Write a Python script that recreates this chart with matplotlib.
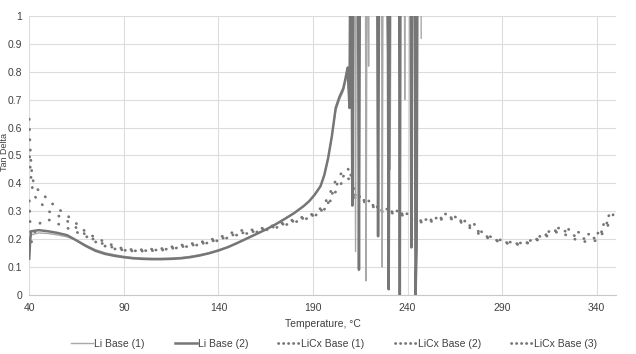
import matplotlib.pyplot as plt
from matplotlib.lines import Line2D

plt.rcParams['font.family'] = ['Liberation Sans', 'DejaVu Sans']

# Li Base runs (temperature, tan delta); values above 1 run off the top of the chart
li1_t = [40, 40.5, 41, 45, 50, 55, 60, 65, 70, 75, 80, 85, 90, 95, 100, 105, 110, 115, 120,
         125, 130, 135, 140, 145, 150, 155, 160, 165, 170, 175, 180, 185, 188, 191, 194, 196,
         198, 200, 202, 204, 206, 208.0, 209.0, 211.8, 212.5, 213.1, 217.6, 218.1, 218.7,
         219.4, 220.0, 226.1, 226.6, 227.2, 230.8, 231.5, 238.2, 238.5, 238.8, 247.0, 247.2]
li1_v = [0.14, 0.19, 0.215, 0.222, 0.22, 0.215, 0.208, 0.196, 0.178, 0.162, 0.151, 0.144,
         0.138, 0.134, 0.132, 0.131, 0.131, 0.132, 0.134, 0.138, 0.144, 0.151, 0.161, 0.172,
         0.187, 0.203, 0.218, 0.234, 0.252, 0.272, 0.293, 0.318, 0.336, 0.36, 0.39, 0.43,
         0.49, 0.57, 0.66, 0.70, 0.73, 0.79, 0.72, 1.6, 0.155, 1.6, 1.6, 0.05, 1.6,
         0.82, 1.6, 1.6, 0.10, 1.6, 0.45, 1.6, 1.6, 0.70, 1.6, 1.6, 0.92]

li2_t = [40, 40.5, 41, 45, 50, 55, 60, 65, 70, 75, 80, 85, 90, 95, 100, 105, 110, 115, 120,
         125, 130, 135, 140, 145, 150, 155, 160, 165, 170, 175, 180, 185, 188, 191, 194, 196,
         198, 200, 202, 204, 206, 207, 208.3, 209.3, 210.0, 210.8, 211.4, 213.6, 214.3, 215.0,
         223.7, 224.4, 225.2, 229.3, 230.0, 230.9, 235.4, 235.9, 236.4, 241.3, 242.0, 242.6,
         243.6, 244.2, 244.8, 245.4]
li2_v = [0.13, 0.20, 0.228, 0.232, 0.228, 0.222, 0.214, 0.195, 0.175, 0.158, 0.147, 0.14,
         0.135, 0.131, 0.129, 0.128, 0.128, 0.129, 0.131, 0.135, 0.141, 0.149, 0.159, 0.171,
         0.186, 0.202, 0.218, 0.234, 0.252, 0.272, 0.293, 0.318, 0.336, 0.36, 0.39, 0.43,
         0.49, 0.57, 0.67, 0.71, 0.74, 0.77, 0.815, 0.67, 1.6, 0.32, 1.6, 1.6, 0.09, 1.6,
         1.6, 0.21, 1.6, 1.6, 0.02, 1.6, 1.6, 0.0, 1.6, 1.6, 0.17, 1.6,
         1.6, 0.0, 0.17, 1.6]

# LiCx Base runs share one temperature grid
cx_t = [40, 40.3, 40.7, 41.2, 42, 44, 46, 50, 55, 60, 65, 70, 75, 80, 85, 90, 95, 100,
        110, 120, 130, 140, 150, 160, 170, 180, 190, 195, 198, 200, 202, 204, 206, 208, 210,
        212, 215, 220, 225, 230, 235, 240, 245, 250, 255, 260, 265, 270, 275, 280, 285, 290,
        295, 300, 305, 310, 315, 320, 325, 330, 335, 340, 343, 346, 349]
cx1_v = [0.63, 0.56, 0.5, 0.45, 0.41, 0.38, 0.37, 0.34, 0.31, 0.285, 0.255, 0.225, 0.205,
         0.19, 0.175, 0.165, 0.162, 0.162, 0.166, 0.178, 0.188, 0.205, 0.23, 0.234, 0.25,
         0.27, 0.29, 0.315, 0.35, 0.38, 0.41, 0.43, 0.44, 0.455, 0.44, 0.37, 0.35, 0.335,
         0.31, 0.307, 0.30, 0.29, 0.27, 0.27, 0.275, 0.29, 0.28, 0.265, 0.255, 0.22, 0.205,
         0.195, 0.188, 0.186, 0.195, 0.21, 0.228, 0.24, 0.235, 0.225, 0.218, 0.215, 0.245,
         0.28, 0.31]
cx2_v = [0.52, 0.48, 0.44, 0.40, 0.37, 0.34, 0.33, 0.30, 0.285, 0.265, 0.24, 0.215, 0.195,
         0.18, 0.168, 0.16, 0.157, 0.157, 0.16, 0.172, 0.182, 0.198, 0.22, 0.228, 0.245,
         0.265, 0.285, 0.305, 0.33, 0.36, 0.39, 0.41, 0.425, 0.44, 0.43, 0.36, 0.345, 0.33,
         0.305, 0.30, 0.295, 0.285, 0.265, 0.268, 0.27, 0.28, 0.275, 0.26, 0.24, 0.215, 0.2,
         0.19, 0.185, 0.183, 0.19, 0.205, 0.222, 0.235, 0.225, 0.205, 0.2, 0.205, 0.23,
         0.265, 0.29]
cx3_v = [0.35, 0.28, 0.22, 0.19, 0.21, 0.24, 0.26, 0.27, 0.255, 0.24, 0.225, 0.21, 0.19,
         0.175, 0.165, 0.16, 0.158, 0.158, 0.162, 0.17, 0.18, 0.195, 0.215, 0.225, 0.24,
         0.26, 0.28, 0.30, 0.32, 0.35, 0.37, 0.39, 0.41, 0.42, 0.41, 0.35, 0.34, 0.325,
         0.30, 0.295, 0.29, 0.28, 0.26, 0.262, 0.265, 0.275, 0.27, 0.255, 0.23, 0.21, 0.198,
         0.188, 0.182, 0.18, 0.188, 0.2, 0.215, 0.228, 0.21, 0.195, 0.19, 0.195, 0.22,
         0.25, 0.26]

x_ticks = [40, 90, 140, 190, 240, 290, 340]
y_ticks = [0, 0.1, 0.2, 0.3, 0.4, 0.5, 0.6, 0.7, 0.8, 0.9, 1]
names = ['Li Base (1)', 'Li Base (2)', 'LiCx Base (1)', 'LiCx Base (2)', 'LiCx Base (3)']

fig = plt.figure(figsize=(6.36, 3.54), dpi=100)
ax = fig.add_axes([0.046, 0.167, 0.922, 0.788])

grey = '#767676'
ax.plot(li1_t, li1_v, color='#a8a8a8', lw=1.0, zorder=3)
ax.plot(li2_t, li2_v, color=grey, lw=1.8, zorder=3)
ax.plot(cx_t, cx1_v, ls=(0, (0.1, 3.6)), color=grey, lw=2.0, dash_capstyle='round')
ax.plot(cx_t, cx2_v, ls=(1.2, (0.1, 3.6)), color=grey, lw=2.0, dash_capstyle='round')
ax.plot(cx_t, cx3_v, ls=(2.4, (0.1, 3.6)), color=grey, lw=2.0, dash_capstyle='round')

ax.set_xlim(40, 350)
ax.set_ylim(0, 1)
ax.set_xticks(x_ticks)
ax.set_yticks(y_ticks)
ax.set_yticklabels(['0', '0.1', '0.2', '0.3', '0.4', '0.5', '0.6', '0.7', '0.8', '0.9', '1'])
ax.grid(color='#dcdcdc', lw=0.8)
ax.set_axisbelow(True)
for s in ['top', 'right', 'left']:
    ax.spines[s].set_visible(False)
ax.spines['bottom'].set_color('#c8c8c8')
ax.tick_params(length=0, labelsize=7.5, colors='#404040', pad=6)
ax.tick_params(axis='y', pad=5)

ax.set_xlabel('Temperature, °C', fontsize=7.5, color='#404040', labelpad=4)
fig.text(0.0065, 0.57, 'Tan Delta', rotation=90, va='center', ha='center',
         fontsize=6.5, color='#404040')

leg_dot = dict(color=grey, lw=2.0, ls=(0, (0.1, 1.7)), dash_capstyle='round')
handles = [Line2D([], [], color='#a8a8a8', lw=1.0),
           Line2D([], [], color=grey, lw=1.8),
           Line2D([], [], **leg_dot),
           Line2D([], [], **leg_dot),
           Line2D([], [], **leg_dot)]
ax.legend(handles, names, loc='upper center', bbox_to_anchor=(0.52, -0.125), ncol=5,
          frameon=False, fontsize=7.5, handlelength=2.1, columnspacing=2.9,
          handletextpad=0.1, labelcolor='#404040')

fig.savefig('out.png', dpi=100)
